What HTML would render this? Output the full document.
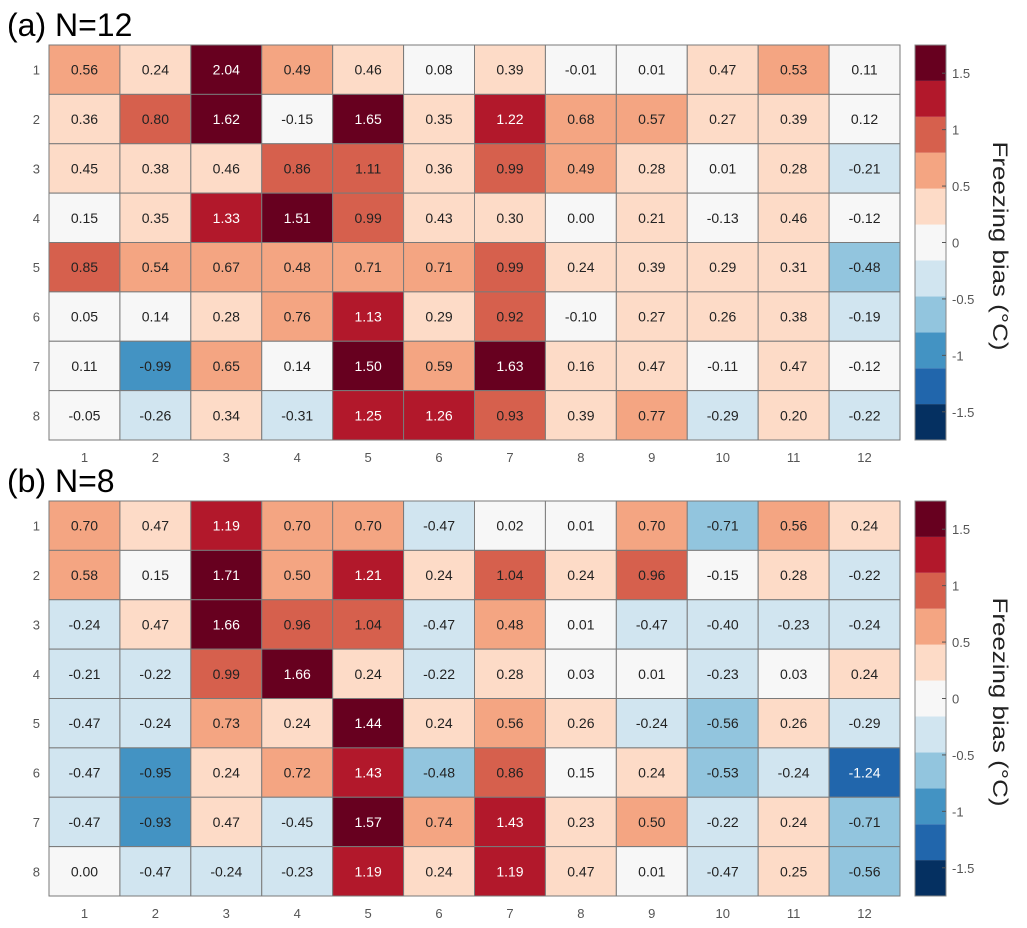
<!DOCTYPE html>
<html><head><meta charset="utf-8"><style>
html,body{margin:0;padding:0;background:#fff;}
svg{display:block;font-family:"Liberation Sans",Arial,sans-serif;}
</style></head><body>
<svg id="fig" width="1027" height="928" viewBox="0 0 1027 928" xmlns="http://www.w3.org/2000/svg"></svg>
<script>
const rowsLabels = [1,2,3,4,5,6,7,8];
const colLabels = [1,2,3,4,5,6,7,8,9,10,11,12];
const valuesA = [
 [0.56,0.24,2.04,0.49,0.46,0.08,0.39,-0.01,0.01,0.47,0.53,0.11],
 [0.36,0.80,1.62,-0.15,1.65,0.35,1.22,0.68,0.57,0.27,0.39,0.12],
 [0.45,0.38,0.46,0.86,1.11,0.36,0.99,0.49,0.28,0.01,0.28,-0.21],
 [0.15,0.35,1.33,1.51,0.99,0.43,0.30,0.00,0.21,-0.13,0.46,-0.12],
 [0.85,0.54,0.67,0.48,0.71,0.71,0.99,0.24,0.39,0.29,0.31,-0.48],
 [0.05,0.14,0.28,0.76,1.13,0.29,0.92,-0.10,0.27,0.26,0.38,-0.19],
 [0.11,-0.99,0.65,0.14,1.50,0.59,1.63,0.16,0.47,-0.11,0.47,-0.12],
 [-0.05,-0.26,0.34,-0.31,1.25,1.26,0.93,0.39,0.77,-0.29,0.20,-0.22]
];
const valuesB = [
 [0.70,0.47,1.19,0.70,0.70,-0.47,0.02,0.01,0.70,-0.71,0.56,0.24],
 [0.58,0.15,1.71,0.50,1.21,0.24,1.04,0.24,0.96,-0.15,0.28,-0.22],
 [-0.24,0.47,1.66,0.96,1.04,-0.47,0.48,0.01,-0.47,-0.40,-0.23,-0.24],
 [-0.21,-0.22,0.99,1.66,0.24,-0.22,0.28,0.03,0.01,-0.23,0.03,0.24],
 [-0.47,-0.24,0.73,0.24,1.44,0.24,0.56,0.26,-0.24,-0.56,0.26,-0.29],
 [-0.47,-0.95,0.24,0.72,1.43,-0.48,0.86,0.15,0.24,-0.53,-0.24,-1.24],
 [-0.47,-0.93,0.47,-0.45,1.57,0.74,1.43,0.23,0.50,-0.22,0.24,-0.71],
 [0.00,-0.47,-0.24,-0.23,1.19,0.24,1.19,0.47,0.01,-0.47,0.25,-0.56]
];
const cbTicks = [1.5,1,0.5,0,-0.5,-1,-1.5];
const cbTickLabels = ["1.5","1","0.5","0","-0.5","-1","-1.5"];
const palette = ["#053061","#2166ac","#4393c3","#92c5de","#d1e5f0","#f7f7f7","#fddbc7","#f4a582","#d6604d","#b2182b","#67001f"];
const vmin=-1.75, vmax=1.75, nb=11;

const NS="http://www.w3.org/2000/svg";
const svg=document.getElementById('fig');
function mk(tag,attrs,parent){const e=document.createElementNS(NS,tag);for(const k in attrs)e.setAttribute(k,attrs[k]);(parent||svg).appendChild(e);return e;}
function binOf(v){let i=Math.floor((v-vmin)/(vmax-vmin)*nb);return Math.max(0,Math.min(nb-1,i));}

const gx0=49,gx1=900,cbx0=915,cbx1=946;
function drawPanel(vals,top,title,key){
  const bottom=top+395;
  const cw=(gx1-gx0)/colLabels.length, rh=(bottom-top)/rowsLabels.length;
  const xs=c=>gx0+c*cw, ys=r=>top+r*rh;
  const g=mk('g',{});
  
  
  vals.forEach((row,r)=>row.forEach((v,c)=>{
    const b=binOf(v);
    const rect=mk('rect',{x:xs(c),y:ys(r),width:cw,height:rh,fill:palette[b],stroke:'#7a7a7a','stroke-width':1},g);
    
    
    const t=mk('text',{x:xs(c)+cw/2,y:ys(r)+rh/2+5,'text-anchor':'middle','font-size':14,fill:(b<=1||b>=9)?'#fff':'#222'},g);
    t.textContent=v.toFixed(2);
    
    
  }));
  rowsLabels.forEach((l,r)=>{const t=mk('text',{x:40,y:ys(r)+rh/2+5,'text-anchor':'end','font-size':13,fill:'#555'});t.textContent=l;
    
    });
  colLabels.forEach((l,c)=>{const t=mk('text',{x:xs(c)+cw/2,y:bottom+22,'text-anchor':'middle','font-size':13,fill:'#555'});t.textContent=l;
    
    });
  // colorbar
  const cb=mk('g',{});
  
  
  const cy=v=>top+(vmax-v)/(vmax-vmin)*395;
  for(let i=0;i<nb;i++){const lo=vmin+i*(vmax-vmin)/nb,hi=lo+(vmax-vmin)/nb;
    const r=mk('rect',{x:cbx0,y:cy(hi),width:cbx1-cbx0,height:cy(lo)-cy(hi),fill:palette[i]},cb);
    
    }
  mk('rect',{x:cbx0,y:top,width:cbx1-cbx0,height:395,fill:'none',stroke:'#888','stroke-width':1},cb);
  cbTicks.forEach((v,i)=>{mk('line',{x1:cbx1-4,x2:cbx1,y1:cy(v),y2:cy(v),stroke:'#555'},cb);
    const t=mk('text',{x:cbx1+6,y:cy(v)+5,'font-size':13,fill:'#555'},cb);t.textContent=cbTickLabels[i];
    
    });
  const lab=mk('text',{x:0,y:0,transform:`translate(993,${top+201}) rotate(90)`,'text-anchor':'middle','font-size':21,fill:'#222',textLength:209,lengthAdjust:'spacingAndGlyphs'},cb);
  lab.textContent='Freezing bias (°C)';
  
  
  const tt=mk('text',{x:7,y:top-9,'font-size':32,fill:'#000'});
  tt.textContent=title;
  
  
}
drawPanel(valuesA,45,'(a) N=12','a');
drawPanel(valuesB,501,'(b) N=8','b');
</script>
</body></html>
